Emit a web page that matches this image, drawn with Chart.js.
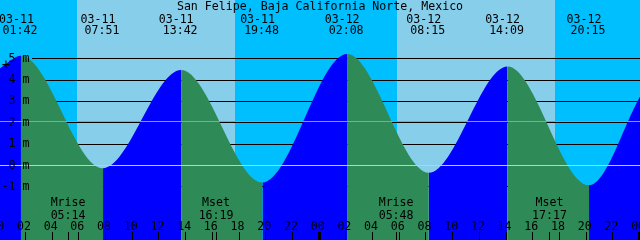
<!DOCTYPE html>
<html>
<head>
<meta charset="utf-8">
<script src="https://cdn.jsdelivr.net/npm/chart.js@4.4.0/dist/chart.umd.min.js"></script>
<style>
  html, body { margin: 0; padding: 0; background: #fff; }
  #wrap { width: 640px; height: 240px; position: relative; }
</style>
</head>
<body>
<div id="wrap"><canvas id="tideChart"></canvas></div>
<script>
const stationName = "San Felipe, Baja California Norte, Mexico";

// high and low tides
const tideDates = ["03-11", "03-11", "03-11", "03-11", "03-12", "03-12", "03-12", "03-12"];
const tideTimes = ["01:42", "07:51", "13:42", "19:48", "02:08", "08:15", "14:09", "20:15"];
const tideHeights = [5.12, -0.15, 4.45, -0.82, 5.2, -0.36, 4.62, -0.94];

// curve at the left and right edge of the window
const edgeTimes = ["03-11 00:08", "03-13 00:04"];
const edgeHeights = [4.53, 3.2];

const sunrises = ["03-11 05:52", "03-12 05:50"];
const sunsets = ["03-11 17:44", "03-12 17:42"];

const moonLabels = ["Mrise", "Mset", "Mrise", "Mset"];
const moonTimes = ["03-11 05:14", "03-11 16:19", "03-12 05:48", "03-12 17:17"];

const hourLabels = ["00", "02", "04", "06", "08", "10", "12", "14", "16", "18", "20", "22",
  "00", "02", "04", "06", "08", "10", "12", "14", "16", "18", "20", "22", "00"];

const levelValues = [-1, 0, 1, 2, 3, 4, 5];
const levelLabels = ["-1 m", "0 m", "1 m", "2 m", "3 m", "4 m", "5 m"];
const meanLevel = 2.06;

const NIGHT = "#00bfff";
const DAY = "#87ceeb";
const FLOOD = "#0000ff";
const EBB = "#2e8b57";
const FONT = '11.6px "DejaVu Sans Mono", monospace';

// "03-12 05:50" -> hours since 03-11 00:00
function toHours(s) {
  const [d, t] = s.split(" ");
  const day = parseInt(d.split("-")[1], 10) - 11;
  const [hh, mm] = t.split(":").map(Number);
  return day * 24 + hh + mm / 60;
}

const tideHours = tideTimes.map((t, i) => toHours(tideDates[i] + " " + t));
const startHour = toHours(edgeTimes[0]);
const endHour = toHours(edgeTimes[1]);

const curve = [{ x: startHour, y: edgeHeights[0] }]
  .concat(tideHours.map((h, i) => ({ x: h, y: tideHeights[i] })))
  .concat([{ x: endHour, y: edgeHeights[1] }]);

function vline(ctx, x, y0, y1, w) {
  ctx.lineWidth = w;
  ctx.beginPath();
  const px = w % 2 ? Math.round(x) + 0.5 : Math.round(x);
  ctx.moveTo(px, y0);
  ctx.lineTo(px, y1);
  ctx.stroke();
}

function hline(ctx, y, x0, x1) {
  ctx.lineWidth = 1;
  ctx.beginPath();
  ctx.moveTo(x0, Math.round(y) + 0.5);
  ctx.lineTo(x1, Math.round(y) + 0.5);
  ctx.stroke();
}

const tidePlugin = {
  id: "tidePlugin",
  beforeDraw(chart) {
    const { ctx, chartArea: a, scales: { x } } = chart;
    ctx.save();
    ctx.fillStyle = NIGHT;
    ctx.fillRect(a.left, a.top, a.right - a.left, a.bottom - a.top);
    ctx.fillStyle = DAY;
    sunrises.forEach((r, i) => {
      const x0 = x.getPixelForValue(toHours(r));
      const x1 = x.getPixelForValue(toHours(sunsets[i]));
      ctx.fillRect(Math.round(x0), a.top, Math.round(x1) - Math.round(x0), a.bottom - a.top);
    });
    ctx.restore();
  },
  beforeDatasetsDraw(chart) {
    const { ctx, chartArea: a, scales: { y } } = chart;
    ctx.save();
    ctx.strokeStyle = "#000";
    levelValues.forEach((v) => hline(ctx, y.getPixelForValue(v), 32, a.right));
    ctx.restore();
  },
  afterDatasetsDraw(chart) {
    const { ctx, chartArea: a, scales: { x, y } } = chart;
    ctx.save();

    // datum and mean level
    ctx.strokeStyle = "#a0d8ec";
    hline(ctx, y.getPixelForValue(0), a.left, a.right);
    ctx.strokeStyle = "#7fa8a0";
    hline(ctx, y.getPixelForValue(meanLevel), a.left, a.right);

    ctx.fillStyle = "#000";
    ctx.strokeStyle = "#000";
    ctx.font = FONT;
    ctx.textBaseline = "alphabetic";

    // level labels
    ctx.textAlign = "right";
    levelValues.forEach((v, i) => {
      ctx.fillText(levelLabels[i], 29.5, y.getPixelForValue(v) + 3.5);
    });

    ctx.font = '14px "DejaVu Sans Mono", monospace';
    ctx.textAlign = "center";
    ctx.fillText("+", 6, 69);
    ctx.font = FONT;

    // title
    ctx.fillText(stationName, 320, 10);

    // high / low tide times
    tideHours.forEach((h, i) => {
      const px = x.getPixelForValue(h);
      const half = ctx.measureText(tideDates[i]).width / 2;
      ctx.fillText(tideDates[i], Math.max(px - 5, half - 1), 22.5);
      ctx.fillText(tideTimes[i], px - 1, 34);
    });

    // moon events
    moonTimes.forEach((t, i) => {
      const px = x.getPixelForValue(toHours(t));
      ctx.fillText(moonLabels[i], px, 206);
      ctx.fillText(t.split(" ")[1], px, 218.5);
      vline(ctx, px, 232, a.bottom, 1);
    });

    // hour axis
    hourLabels.forEach((lab, i) => {
      const px = x.getPixelForValue(i * 2);
      ctx.fillText(lab, px - 1, 229.5);
      vline(ctx, px, 232, a.bottom, lab === "00" ? 3 : 1);
    });

    ctx.restore();
  }
};

new Chart(document.getElementById("tideChart"), {
  type: "line",
  data: {
    datasets: [{
      data: curve,
      fill: "start",
      cubicInterpolationMode: "monotone",
      pointRadius: 0,
      borderWidth: 1,
      borderColor: "rgba(0,0,0,0)",
      backgroundColor: FLOOD,
      segment: {
        backgroundColor: (c) => (c.p1.parsed.y > c.p0.parsed.y ? FLOOD : EBB)
      }
    }]
  },
  options: {
    responsive: true,
    maintainAspectRatio: false,
    animation: false,
    layout: { padding: 0 },
    plugins: { legend: { display: false }, tooltip: { enabled: false } },
    scales: {
      x: { type: "linear", min: startHour, max: endHour, display: false },
      y: { min: -3.51, max: 7.73, display: false }
    }
  },
  plugins: [tidePlugin]
});
</script>
</body>
</html>
